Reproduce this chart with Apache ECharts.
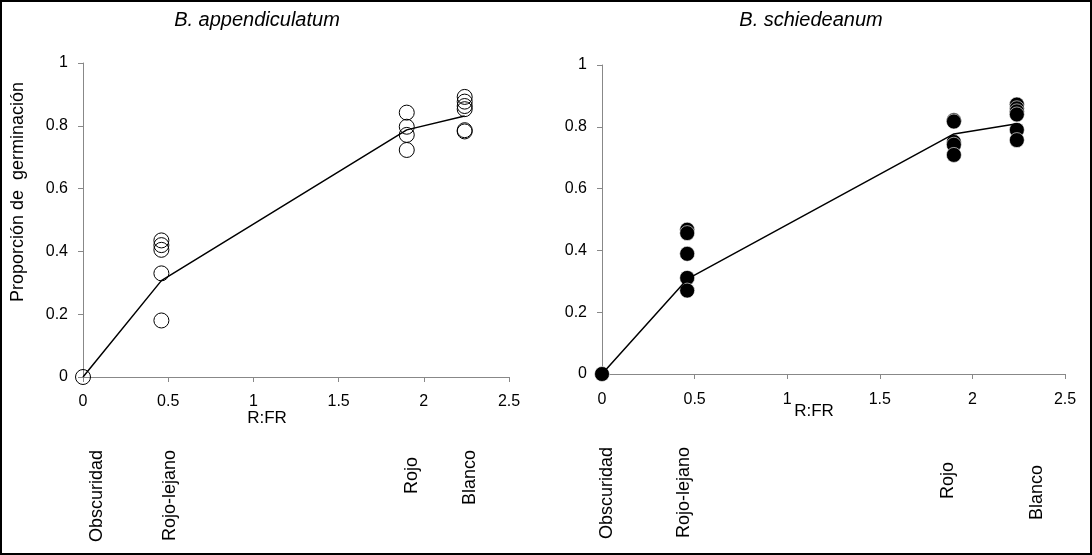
<!DOCTYPE html>
<html>
<head>
<meta charset="utf-8">
<script src="https://cdn.jsdelivr.net/npm/echarts@6/dist/echarts.min.js"></script>
<style>
html,body{margin:0;padding:0;background:#fff;}
#frame{width:1092px;height:555px;box-sizing:border-box;border:2px solid #000;position:relative;}
#c{position:absolute;left:-2px;top:-2px;width:1092px;height:555px;}
</style>
</head>
<body>
<div id="frame"><div id="c"></div></div>
<script>
// ---- data ----
const rfr = [0, 0.46, 1.9, 2.24];
const treatments = ['Obscuridad', 'Rojo-lejano', 'Rojo', 'Blanco'];
const xTicks = [0, 0.5, 1, 1.5, 2, 2.5];
const yTicks = [0, 0.2, 0.4, 0.6, 0.8, 1];

const appObscuridad = [0];
const appRojoLejano = [0.435, 0.42, 0.405, 0.33, 0.18];
const appRojo = [0.842, 0.797, 0.771, 0.723];
const appBlanco = [0.892, 0.877, 0.863, 0.853, 0.786, 0.782];
const appMean = [0, 0.307, 0.787, 0.831];

const schObscuridad = [0];
const schRojoLejano = [0.467, 0.456, 0.389, 0.311, 0.270];
const schRojo = [0.821, 0.817, 0.751, 0.742, 0.709];
const schBlanco = [0.872, 0.86, 0.85, 0.84, 0.79, 0.757];
const schMean = [0, 0.307, 0.777, 0.81];

const titles = ['B. appendiculatum', 'B. schiedeanum'];
const yName = 'Proporción de  germinación';
const xName = 'R:FR';

// ---- build ----
function pts(groups) {
  const out = [];
  groups.forEach((g, i) => g.forEach(v => out.push([rfr[i], v])));
  return out;
}
const appPts = pts([appObscuridad, appRojoLejano, appRojo, appBlanco]);
const schPts = pts([schObscuridad, schRojoLejano, schRojo, schBlanco]);
const line = m => m.map((v, i) => [rfr[i], v]);

const FONT = '"Liberation Sans", Arial, sans-serif';
function xAxis(gi, margin) {
  return {
    type: 'value', gridIndex: gi, min: xTicks[0], max: xTicks[xTicks.length - 1], interval: 0.5,
    axisLine: { show: true, lineStyle: { color: '#888', width: 1 } },
    axisTick: { show: true, length: 5, lineStyle: { color: '#888' } },
    splitLine: { show: false },
    axisLabel: { color: '#000', fontSize: 16, fontFamily: FONT, margin: margin }
  };
}
function yAxis(gi) {
  return {
    type: 'value', gridIndex: gi, min: yTicks[0], max: yTicks[yTicks.length - 1], interval: 0.2,
    axisLine: { show: true, lineStyle: { color: '#888', width: 1 } },
    axisTick: { show: true, length: 5, lineStyle: { color: '#888' } },
    splitLine: { show: false },
    axisLabel: { color: '#000', fontSize: 16, fontFamily: FONT, margin: 15 }
  };
}

const catPos = [
  { xs: [97, 170, 412, 470], tops: [450, 450, 457, 450] },
  { xs: [607, 684, 948, 1037], tops: [447, 447, 462, 465] }
];
const graphics = [];
catPos.forEach(p => {
  treatments.forEach((t, i) => {
    graphics.push({
      type: 'text', x: p.xs[i], y: p.tops[i], rotation: Math.PI / 2,
      style: { text: t, fontSize: 18, fontFamily: FONT, fill: '#000', align: 'right', verticalAlign: 'middle' }
    });
  });
});
graphics.push({ type: 'text', x: 257, y: 20, style: { text: titles[0], fontSize: 20, fontStyle: 'italic', fontFamily: FONT, fill: '#000', align: 'center', verticalAlign: 'middle' } });
graphics.push({ type: 'text', x: 811, y: 20, style: { text: titles[1], fontSize: 20, fontStyle: 'italic', fontFamily: FONT, fill: '#000', align: 'center', verticalAlign: 'middle' } });
graphics.push({ type: 'text', x: 18, y: 192, rotation: Math.PI / 2, style: { text: yName, fontSize: 18, fontFamily: FONT, fill: '#000', align: 'center', verticalAlign: 'middle' } });
graphics.push({ type: 'text', x: 267, y: 418, style: { text: xName, fontSize: 17, fontFamily: FONT, fill: '#000', align: 'center', verticalAlign: 'middle' } });
graphics.push({ type: 'text', x: 814, y: 411, style: { text: xName, fontSize: 17, fontFamily: FONT, fill: '#000', align: 'center', verticalAlign: 'middle' } });

const chart = echarts.init(document.getElementById('c'), null, { renderer: 'canvas' });
chart.setOption({
  animation: false,
  backgroundColor: 'transparent',
  grid: [
    { left: 83, top: 63, width: 426, height: 314 },
    { left: 602, top: 65, width: 463, height: 309 }
  ],
  xAxis: [xAxis(0, 17), xAxis(1, 18)],
  yAxis: [yAxis(0), yAxis(1)],
  graphic: graphics,
  series: [
    {
      type: 'scatter', xAxisIndex: 0, yAxisIndex: 0, data: appPts, symbol: 'circle', symbolSize: 15,
      itemStyle: { color: 'rgba(0,0,0,0)', borderColor: '#000', borderWidth: 1, opacity: 1 }, z: 2
    },
    {
      type: 'line', xAxisIndex: 0, yAxisIndex: 0, data: line(appMean), showSymbol: false, symbol: 'none',
      lineStyle: { color: '#000', width: 1.5 }, z: 3
    },
    {
      type: 'scatter', xAxisIndex: 1, yAxisIndex: 1, data: schPts, symbol: 'circle', symbolSize: 15,
      itemStyle: { color: '#000', borderColor: '#fff', borderWidth: 0.6, opacity: 1 }, z: 2
    },
    {
      type: 'line', xAxisIndex: 1, yAxisIndex: 1, data: line(schMean), showSymbol: false, symbol: 'none',
      lineStyle: { color: '#000', width: 1.5 }, z: 3
    }
  ]
});
</script>
</body>
</html>
